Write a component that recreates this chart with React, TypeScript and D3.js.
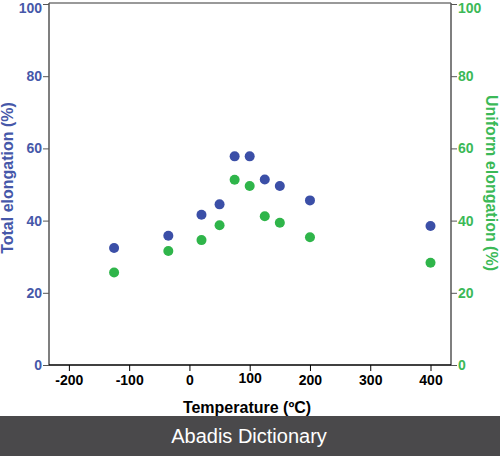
import { useEffect, useRef } from "react";
import * as d3 from "d3";

const WIDTH = 500;
const HEIGHT = 456;
const MARGIN = { top: 4, right: 49, bottom: 91, left: 49 };

const temperatures = [-125, -35, 20, 50, 75, 100, 125, 150, 200, 400];
const totalElongation = [32.4, 35.8, 41.6, 44.5, 57.8, 57.8, 51.4, 49.6, 45.6, 38.5];
const uniformElongation = [25.6, 31.6, 34.6, 38.7, 51.3, 49.6, 41.2, 39.4, 35.4, 28.3];
const xTicks = [-200, -100, 0, 100, 200, 300, 400];
const yTicks = [0, 20, 40, 60, 80, 100];

const BLUE = "#3b4fa7";
const BLUE_TEXT = "#4658a9";
const GREEN = "#2fb54a";
const GREEN_TEXT = "#3bb957";
const FONT = "'Liberation Sans', Arial, sans-serif";

export default function App() {
  const axesRef = useRef(null);
  const boundsWidth = WIDTH - MARGIN.left - MARGIN.right;
  const boundsHeight = HEIGHT - MARGIN.top - MARGIN.bottom;

  const xScale = d3.scaleLinear().domain([-233, 434]).range([0, boundsWidth]);
  const yScale = d3.scaleLinear().domain([0, 100]).range([boundsHeight, 0]);

  // axes drawn by d3 into the group
  useEffect(() => {
    const svg = d3.select(axesRef.current);
    svg.selectAll("*").remove();

    const styleAxis = (g, color, lineColor) => {
      g.select(".domain").remove();
      g.selectAll(".tick line").attr("stroke", lineColor).attr("stroke-width", 1);
      g.selectAll(".tick text")
        .attr("fill", color)
        .attr("font-family", FONT)
        .attr("font-weight", "bold")
        .attr("font-size", 14);
    };
    const fmt = (d) => String(d); // plain hyphen for negatives

    svg
      .append("g")
      .attr("transform", "translate(0," + boundsHeight + ")")
      .call(d3.axisBottom(xScale).tickValues(xTicks).tickFormat(fmt).tickSize(6).tickPadding(4))
      .call((g) => styleAxis(g, "#000", "#000"));

    svg
      .append("g")
      .call(d3.axisLeft(yScale).tickValues(yTicks).tickFormat(fmt).tickSize(6).tickPadding(1))
      .call((g) => styleAxis(g, BLUE_TEXT, "#555"));

    svg
      .append("g")
      .attr("transform", "translate(" + boundsWidth + ",0)")
      .call(d3.axisRight(yScale).tickValues(yTicks).tickFormat(fmt).tickSize(6).tickPadding(1))
      .call((g) => styleAxis(g, GREEN_TEXT, "#555"));

    // keep the top labels inside the picture
    svg.selectAll(".tick text").filter((d) => d === 100).attr("dy", "0.6em");
  }, [boundsHeight, boundsWidth]);

  return (
    <svg
      width={WIDTH}
      height={HEIGHT}
      style={{ position: "absolute", left: 0, top: 0, background: "#fff" }}
    >
      <g transform={`translate(${MARGIN.left},${MARGIN.top})`}>
        {/* frame */}
        <line x1={0} x2={boundsWidth} y1={-1} y2={-1} stroke="#777" strokeWidth={1.5} />
        <line x1={0} x2={0} y1={-1} y2={boundsHeight} stroke="#555" strokeWidth={1.5} />
        <line x1={boundsWidth} x2={boundsWidth} y1={-1} y2={boundsHeight} stroke="#555" strokeWidth={1.5} />
        <line x1={0} x2={boundsWidth} y1={boundsHeight} y2={boundsHeight} stroke="#000" strokeWidth={1.5} />

        <g ref={axesRef} />

        {temperatures.map((t, i) => (
          <circle key={"u" + i} cx={xScale(t)} cy={yScale(uniformElongation[i])} r={5} fill={GREEN} />
        ))}
        {temperatures.map((t, i) => (
          <circle key={"t" + i} cx={xScale(t)} cy={yScale(totalElongation[i])} r={5} fill={BLUE} />
        ))}
      </g>

      <text
        x={247}
        y={413}
        textAnchor="middle"
        fontFamily={FONT}
        fontWeight="bold"
        fontSize={16}
        fill="#000"
      >
        Temperature (ºC)
      </text>
      <text
        transform="translate(13,178) rotate(-90)"
        textAnchor="middle"
        fontFamily={FONT}
        fontWeight="bold"
        fontSize={16}
        fill={BLUE_TEXT}
      >
        Total elongation (%)
      </text>
      <text
        transform="translate(486,183) rotate(90)"
        textAnchor="middle"
        fontFamily={FONT}
        fontWeight="bold"
        fontSize={16}
        fill={GREEN_TEXT}
      >
        Uniform elongation (%)
      </text>

      <rect x={0} y={416} width={WIDTH} height={40} fill="#4a494b" />
      <text
        x={249}
        y={443}
        textAnchor="middle"
        fontFamily={FONT}
        fontSize={20}
        fill="#fff"
      >
        Abadis Dictionary
      </text>
    </svg>
  );
}
